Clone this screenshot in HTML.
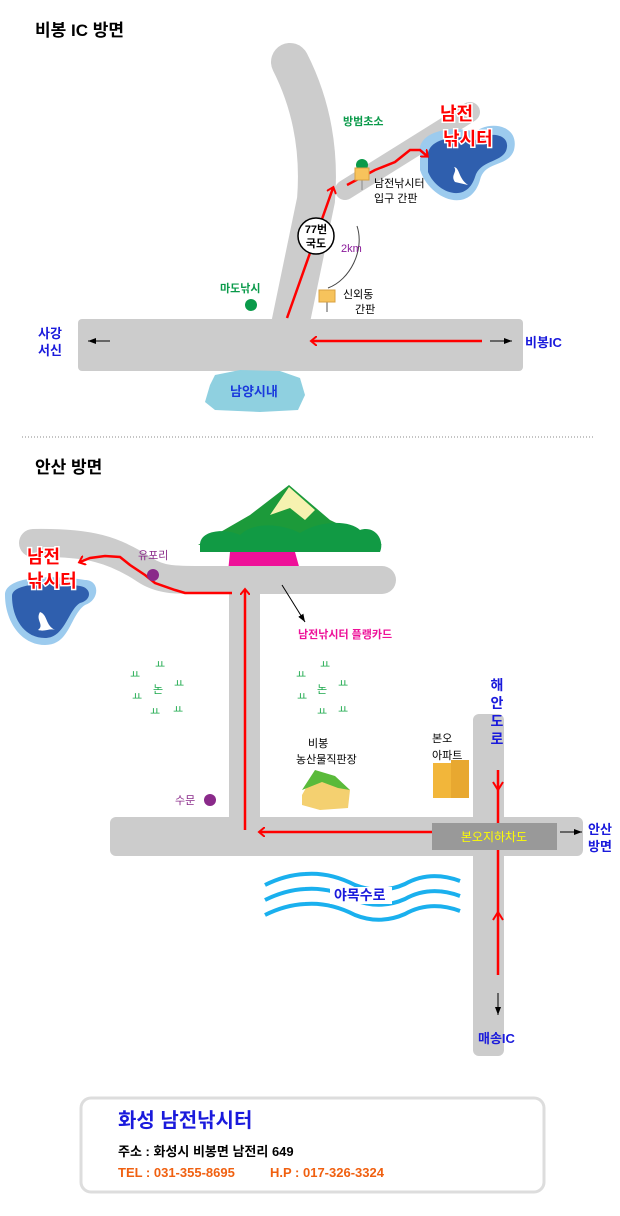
<!DOCTYPE html>
<html><head><meta charset="utf-8"><style>
html,body{margin:0;padding:0;background:#fff}
svg{display:block}
text{font-family:"Liberation Sans","Noto Sans CJK KR",sans-serif}
</style></head><body>
<svg width="620" height="1216" viewBox="0 0 620 1216" xmlns="http://www.w3.org/2000/svg">
<defs>
<marker id="ar" markerWidth="10" markerHeight="10" refX="5" refY="5" orient="auto" markerUnits="userSpaceOnUse">
<path d="M0,0 L6,5 L0,10" fill="none" stroke="#f00" stroke-width="2"/></marker>
<marker id="bk" markerWidth="8" markerHeight="6" refX="8" refY="3" orient="auto" markerUnits="userSpaceOnUse">
<path d="M0,0 L8,3 L0,6z" fill="#000"/></marker>
</defs>

<text x="35" y="36" font-size="17" font-weight="bold">비봉 IC 방면</text>

<path d="M288,335 L316,200 Q322,125 290,62" stroke="#ccc" stroke-width="38" fill="none" stroke-linecap="round"/>
<path d="M345,190 L470,112" stroke="#ccc" stroke-width="20" stroke-linecap="round"/>
<rect x="78" y="319" width="445" height="52" rx="4" fill="#ccc"/>

<path d="M420,155 C415,130 455,125 475,132 C490,120 520,125 514,150 C508,168 485,160 480,180 C470,215 430,200 420,170z" fill="#9ccbee"/>
<path d="M428,158 C425,138 458,134 476,140 C492,130 512,135 506,151 C500,163 480,160 475,177 C466,205 436,192 428,172z" fill="#2f5fae"/>
<path d="M455,182 C450,175 458,172 454,167 C460,168 458,178 468,185z" fill="#fff"/>

<path d="M482,341 L312,341" stroke="#f00" stroke-width="2.5" fill="none" marker-end="url(#ar)"/>
<path d="M287,318 L333,188" stroke="#f00" stroke-width="2.5" fill="none" marker-end="url(#ar)"/>
<path d="M347,185 L375,170 L395,162 L410,150 L420,150 L427,156" stroke="#f00" stroke-width="2.5" fill="none" marker-end="url(#ar)"/>

<text x="440" y="120" font-size="18" font-weight="bold" fill="#f00" stroke="#fff" stroke-width="3" paint-order="stroke">남전</text>
<text x="443" y="145" font-size="18" font-weight="bold" fill="#f00" stroke="#fff" stroke-width="3" paint-order="stroke">낚시터</text>

<circle cx="362" cy="165" r="6" fill="#0a9a4a"/>
<text x="343" y="125" font-size="11" fill="#0a9a4a" font-weight="bold">방범초소</text>
<circle cx="251" cy="305" r="6" fill="#0a9a4a"/>
<text x="220" y="292" font-size="11" fill="#0a9a4a" font-weight="bold">마도낚시</text>

<line x1="362" y1="175" x2="362" y2="190" stroke="#aaa" stroke-width="2"/>
<rect x="355" y="168" width="14" height="12" fill="#f7c35c" stroke="#d8a040"/>
<line x1="327" y1="297" x2="327" y2="312" stroke="#aaa" stroke-width="2"/>
<rect x="319" y="290" width="16" height="12" fill="#f7c35c" stroke="#d8a040"/>
<text x="374" y="187" font-size="11">남전낚시터</text>
<text x="374" y="202" font-size="11">입구 간판</text>
<text x="343" y="298" font-size="11">신외동</text>
<text x="355" y="313" font-size="11">간판</text>
<path d="M357,226 C365,250 350,280 328,288" stroke="#444" fill="none" stroke-width="1"/>
<text x="341" y="252" font-size="11" fill="#8a1a9a">2km</text>
<circle cx="316" cy="236" r="18" fill="#fff" stroke="#000" stroke-width="1.5"/>
<text x="316" y="233" font-size="11" font-weight="bold" text-anchor="middle">77번</text>
<text x="316" y="247" font-size="11" font-weight="bold" text-anchor="middle">국도</text>

<line x1="110" y1="341" x2="88" y2="341" stroke="#000" marker-end="url(#bk)"/>
<line x1="490" y1="341" x2="512" y2="341" stroke="#000" marker-end="url(#bk)"/>
<text x="38" y="338" font-size="13" fill="#1a1adc" font-weight="bold">사강</text>
<text x="38" y="355" font-size="13" fill="#1a1adc" font-weight="bold">서신</text>
<text x="525" y="347" font-size="13" fill="#1a1adc" font-weight="bold">비봉IC</text>

<path d="M215,375 L240,370 L280,371 L300,378 L305,395 L298,410 L260,412 L215,410 L205,402 L210,385z" fill="#8fd0e0"/>
<text x="230" y="396" font-size="13" fill="#1a3adc" font-weight="bold">남양시내</text>

<line x1="22" y1="437" x2="595" y2="437" stroke="#888" stroke-dasharray="1,2"/>

<text x="35" y="473" font-size="17" font-weight="bold">안산 방면</text>

<path d="M230,552 L295,552 L300,570 L228,572z" fill="#ee1199"/>
<path d="M33,543 C90,542 115,550 145,570 C160,580 175,580 200,580 L382,580" stroke="#ccc" stroke-width="28" fill="none" stroke-linecap="round"/>
<rect x="229" y="570" width="31" height="270" fill="#ccc"/>
<rect x="110" y="817" width="473" height="39" rx="6" fill="#ccc"/>
<rect x="473" y="714" width="31" height="342" rx="6" fill="#ccc"/>
<rect x="432" y="823" width="125" height="27" fill="#999"/>
<text x="494" y="841" font-size="12" fill="#ff0" text-anchor="middle">본오지하차도</text>

<path d="M289,485 L330,520 L382,545 L198,545 L250,515z" fill="#1c9a3a"/>
<path d="M289,487 L315,510 L305,520 L290,508 L270,515z" fill="#f6f2b0"/>
<path d="M200,545 C200,530 225,528 240,535 C255,520 285,525 300,533 C320,520 350,520 360,530 C375,525 385,540 380,552 L200,552z" fill="#119a44"/>
<line x1="282" y1="585" x2="305" y2="622" stroke="#000" marker-end="url(#bk)"/>
<text x="298" y="638" font-size="11" fill="#ee1199" font-weight="bold">남전낚시터 플랭카드</text>

<path d="M5,595 C5,575 55,575 85,580 C100,580 100,600 85,605 C70,615 70,645 45,645 C20,645 5,620 5,595z" fill="#9ccbee"/>
<path d="M12,596 C12,582 55,582 80,586 C92,588 92,600 80,603 C68,610 65,638 45,638 C24,638 12,618 12,596z" fill="#2f5fae"/>
<path d="M40,612 C35,620 45,625 38,630 C45,632 50,628 55,630 C45,625 48,615 40,612z" fill="#fff"/>
<text x="27" y="563" font-size="18" font-weight="bold" fill="#f00" stroke="#fff" stroke-width="3" paint-order="stroke">남전</text>
<text x="27" y="587" font-size="18" font-weight="bold" fill="#f00" stroke="#fff" stroke-width="3" paint-order="stroke">낚시터</text>

<path d="M232,593 L185,593 L175,590 L155,583 L145,575 L130,565 L120,557 L105,556 L90,558 L80,562" stroke="#f00" stroke-width="2.5" fill="none" marker-end="url(#ar)"/>
<path d="M245,830 L245,590" stroke="#f00" stroke-width="2.5" fill="none" marker-end="url(#ar)"/>
<path d="M432,832 L260,832" stroke="#f00" stroke-width="2.5" fill="none" marker-end="url(#ar)"/>
<path d="M498,770 L498,823" stroke="#f00" stroke-width="2.5" fill="none"/>
<path d="M493,782 L498,790 L503,782" stroke="#f00" stroke-width="2" fill="none"/>
<path d="M498,975 L498,850" stroke="#f00" stroke-width="2.5" fill="none"/>
<path d="M493,920 L498,912 L503,920" stroke="#f00" stroke-width="2" fill="none"/>
<line x1="560" y1="832" x2="582" y2="832" stroke="#000" marker-end="url(#bk)"/>
<line x1="498" y1="993" x2="498" y2="1015" stroke="#000" marker-end="url(#bk)"/>
<text x="588" y="834" font-size="13" fill="#1a1adc" font-weight="bold">안산</text>
<text x="588" y="851" font-size="13" fill="#1a1adc" font-weight="bold">방면</text>
<text x="478" y="1043" font-size="13" fill="#1a1adc" font-weight="bold">매송IC</text>
<g font-size="14" fill="#1a1adc" font-weight="bold" text-anchor="middle">
<text x="497" y="690">해</text><text x="497" y="708">안</text><text x="497" y="726">도</text><text x="497" y="744">로</text></g>

<circle cx="153" cy="575" r="6" fill="#8a2a8a"/>
<text x="138" y="559" font-size="11" fill="#8a2a8a">유포리</text>
<circle cx="210" cy="800" r="6" fill="#8a2a8a"/>
<text x="175" y="804" font-size="11" fill="#8a2a8a">수문</text>

<g fill="#1aa84a" font-size="11">
<text x="153" y="693">논</text><text x="130" y="678">ㅛ</text><text x="155" y="668">ㅛ</text><text x="174" y="687">ㅛ</text><text x="132" y="700">ㅛ</text><text x="150" y="715">ㅛ</text><text x="173" y="713">ㅛ</text>
<text x="317" y="693">논</text><text x="296" y="678">ㅛ</text><text x="320" y="668">ㅛ</text><text x="338" y="687">ㅛ</text><text x="297" y="700">ㅛ</text><text x="317" y="715">ㅛ</text><text x="338" y="713">ㅛ</text>
</g>

<text x="308" y="747" font-size="11">비봉</text>
<text x="296" y="763" font-size="11">농산물직판장</text>
<path d="M302,795 L315,772 L335,778 L350,790 L348,808 L320,810 L302,805z" fill="#f4d070"/>
<path d="M302,790 L315,770 L335,776 L350,790 L338,788 L322,782z" fill="#5aba3a"/>
<text x="432" y="742" font-size="11">본오</text>
<text x="432" y="759" font-size="11">아파트</text>
<rect x="433" y="763" width="18" height="35" fill="#f2b63a"/>
<rect x="451" y="760" width="18" height="38" fill="#e8a830"/>

<g stroke="#1ab0ee" stroke-width="4" fill="none">
<path d="M265,885 Q285,875 305,874 Q330,872 355,885 Q380,895 405,884 Q430,870 460,881"/>
<path d="M265,900 Q285,890 305,889 Q330,887 355,900 Q380,910 405,899 Q430,885 460,896"/>
<path d="M265,915 Q285,905 305,904 Q330,902 355,915 Q380,925 405,914 Q430,900 460,911"/>
</g>
<rect x="330" y="887" width="62" height="17" fill="#fff"/>
<text x="334" y="900" font-size="14" fill="#1a1adc" font-weight="bold">야목수로</text>

<rect x="81" y="1098" width="463" height="94" rx="10" fill="#fff" stroke="#ddd" stroke-width="3"/>
<text x="118" y="1127" font-size="20" fill="#1a1adc" font-weight="bold">화성 남전낚시터</text>
<text x="118" y="1156" font-size="13" font-weight="bold">주소 : 화성시 비봉면 남전리 649</text>
<text x="118" y="1177" font-size="13" font-weight="bold" fill="#f06010">TEL : 031-355-8695</text>
<text x="270" y="1177" font-size="13" font-weight="bold" fill="#f06010">H.P : 017-326-3324</text>
</svg>
</body></html>
